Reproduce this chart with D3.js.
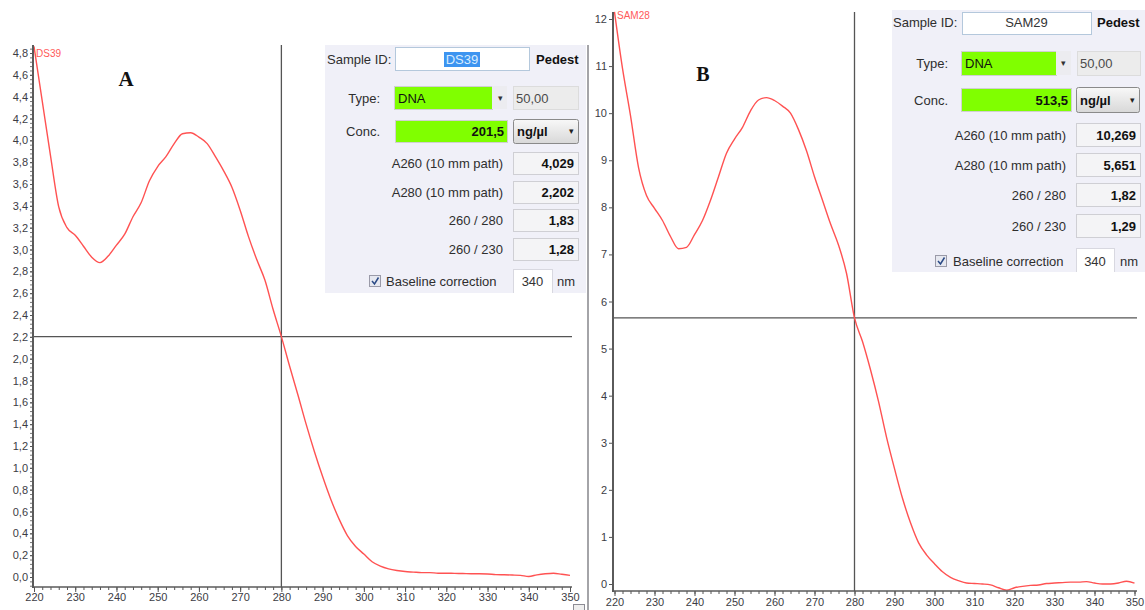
<!DOCTYPE html>
<html>
<head>
<meta charset="utf-8">
<script src="https://cdn.jsdelivr.net/npm/d3@7"></script>
<style>
  body { margin: 0; background: #fff; }
  svg { display: block; }
</style>
</head>
<body>
<svg id="chart" width="1145" height="610"></svg>
<script>
// Wavelength grid (nm) shared by both spectra
const wavelengths = [220,222,224,226,228,230,232,234,236,238,240,242,244,246,248,250,252,254,256,258,
  260,262,264,266,268,270,272,274,276,278,280,282,284,286,288,290,292,294,296,298,
  300,302,304,306,308,310,312,314,316,318,320,322,324,326,328,330,332,334,336,338,
  340,342,344,346,348,350];

// Absorbance, sample DS39
const absorbA = [4.86,4.36,3.86,3.39,3.20,3.13,3.03,2.93,2.88,2.94,3.04,3.14,3.30,3.43,3.63,3.76,3.85,3.97,4.06,4.07,
  4.029,3.97,3.85,3.72,3.57,3.36,3.12,2.91,2.72,2.45,2.202,1.93,1.67,1.40,1.15,0.92,0.71,0.53,0.38,0.28,
  0.21,0.14,0.10,0.075,0.06,0.05,0.045,0.04,0.04,0.035,0.035,0.033,0.032,0.03,0.03,0.028,0.022,0.02,0.018,0.015,
  0.005,0.02,0.03,0.035,0.025,0.015];

// Absorbance, sample SAM29
const absorbB = [12.15,10.95,9.95,8.85,8.25,7.98,7.72,7.38,7.12,7.15,7.42,7.72,8.15,8.65,9.15,9.45,9.70,10.05,10.28,10.33,
  10.269,10.15,10.00,9.65,9.20,8.65,8.15,7.65,7.20,6.60,5.651,5.15,4.55,3.88,3.12,2.45,1.82,1.30,0.88,0.62,
  0.43,0.26,0.14,0.07,0.02,0.01,0.00,-0.02,-0.08,-0.13,-0.08,-0.05,-0.03,-0.02,0.01,0.02,0.03,0.04,0.04,0.05,
  0.02,0.00,0.00,0.02,0.06,0.02];

// Axis ticks
const xTicks = [220,230,240,250,260,270,280,290,300,310,320,330,340,350];
const yTicksA = [0,0.2,0.4,0.6,0.8,1.0,1.2,1.4,1.6,1.8,2.0,2.2,2.4,2.6,2.8,3.0,3.2,3.4,3.6,3.8,4.0,4.2,4.4,4.6,4.8];
const yTicksB = [0,1,2,3,4,5,6,7,8,9,10,11,12];
const crossNm = 280;

// Measurement readouts
const sampleIds = ["DS39", "SAM29"];
const traceNames = ["DS39", "SAM28"];
const panelLetters = ["A", "B"];
const concentrations = ["201,5", "513,5"];
const a260 = [4.029, 10.269];
const a280 = [2.202, 5.651];
const ratio260280 = ["1,83", "1,82"];
const ratio260230 = ["1,28", "1,29"];
const rowLabels = ["A260 (10 mm path)", "A280 (10 mm path)", "260 / 280", "260 / 230"];
const sampleType = "DNA";
const typeFactor = "50,00";
const concUnit = "ng/µl";
const baselineNm = "340";

const locale = d3.formatLocale({decimal: ",", thousands: ".", grouping: [3], currency: ["", ""]});
const fmt1 = locale.format(".1f");
const fmt3 = locale.format(".3f");
const fmt0 = locale.format("d");

const svg = d3.select("#chart");
const defs = svg.append("defs");
const grad = defs.append("linearGradient").attr("id", "btnGrad").attr("x1", 0).attr("x2", 0).attr("y1", 0).attr("y2", 1);
grad.append("stop").attr("offset", 0).attr("stop-color", "#f8f8f8");
grad.append("stop").attr("offset", 1).attr("stop-color", "#d8d8d8");

const tickFont = "Liberation Sans, Arial, sans-serif";
const uiFont = "Liberation Sans, Arial, sans-serif";

const panels = [
  { idx: 0, values: absorbA, yTicks: yTicksA, yMinorStep: 0.04, yFmt: fmt1,
    xL: 34, xR: 570, y0: 577, yRefVal: 4.8, yRefPx: 53,
    axisX: 33, axisY: 587, top: 45, right: 572, xLabelOff: 6, yTickLen: 3,
    traceLabel: [36, 57], letter: [126, 86, 21],
    box: { x: 325, y: 45, w: 261, h: 248,
      idLabelX: 327, idY: 59, idBox: [395, 47, 529, 70], pedX: 536,
      typeY: 98, labRight: 380, typeGreen: [394, 86, 492, 109], arrowX: 500, factorBox: [513, 86, 578, 109],
      concY: 131, concGreen: [395, 120, 507, 142], unitBtn: [513, 119, 579, 144],
      rowsY: [163, 192, 220, 249], rowLabRight: 503, rowBox: [513, 578], rowH: 22,
      baseY: 281, checkX: 369, baseTextX: 386, baseBox: [513, 269, 552, 293], nmX: 557,
      highlight: true } },
  { idx: 1, values: absorbB, yTicks: yTicksB, yMinorStep: null, yFmt: fmt0,
    xL: 614.5, xR: 1134.5, y0: 584, yRefVal: 12, yRefPx: 19,
    axisX: 613, axisY: 591, top: 12, right: 1137, xLabelOff: 7, yTickLen: 4,
    traceLabel: [617, 19], letter: [703, 81, 20],
    box: { x: 892, y: 10, w: 253, h: 262,
      idLabelX: 893, idY: 22, idBox: [962, 12, 1091, 34], pedX: 1097,
      typeY: 63, labRight: 948, typeGreen: [961, 51, 1056, 75], arrowX: 1063, factorBox: [1077, 51, 1140, 75],
      concY: 100, concGreen: [961, 88, 1071, 111], unitBtn: [1076, 87, 1140, 113],
      rowsY: [135, 165, 195, 226], rowLabRight: 1066, rowBox: [1076, 1140], rowH: 23,
      baseY: 261, checkX: 935, baseTextX: 953, baseBox: [1076, 248, 1114, 274], nmX: 1120,
      highlight: false } }
];

function drawPlot(p) {
  const g = svg.append("g");
  const x = d3.scaleLinear().domain([220, 350]).range([p.xL, p.xR]);
  const y = d3.scaleLinear().domain([0, p.yRefVal]).range([p.y0, p.yRefPx]);

  const clipId = "plotClip" + p.idx;
  defs.append("clipPath").attr("id", clipId).append("rect")
    .attr("x", p.axisX).attr("y", p.top - 3).attr("width", p.right - p.axisX + 2).attr("height", p.axisY - p.top + 3);

  // crosshair at 280 nm / A280
  g.append("line").attr("x1", x(crossNm)).attr("x2", x(crossNm)).attr("y1", p.top).attr("y2", p.axisY)
    .attr("stroke", "#555").attr("stroke-width", 1.3);
  g.append("line").attr("x1", p.axisX).attr("x2", p.right).attr("y1", y(a280[p.idx])).attr("y2", y(a280[p.idx]))
    .attr("stroke", "#555").attr("stroke-width", 1.3);

  // spectrum
  const line = d3.line().x(d => x(d[0])).y(d => y(d[1])).curve(d3.curveMonotoneX);
  g.append("path").datum(d3.zip(wavelengths, p.values))
    .attr("clip-path", `url(#${clipId})`)
    .attr("d", line).attr("fill", "none").attr("stroke", "#ff5252").attr("stroke-width", 1.4)
    .attr("stroke-linejoin", "round");

  // x axis: minor ticks every 2 nm, labelled every 10 nm
  const xMinor = g.append("g").attr("transform", `translate(0,${p.axisY})`)
    .call(d3.axisBottom(x).tickValues(wavelengths).tickSize(3).tickSizeOuter(0).tickFormat(""));
  const xMajor = g.append("g").attr("transform", `translate(0,${p.axisY})`)
    .call(d3.axisBottom(x).tickValues(xTicks).tickSize(5).tickSizeOuter(0).tickPadding(p.xLabelOff - 5).tickFormat(fmt0));
  [xMinor, xMajor].forEach(a => { a.select(".domain").remove(); a.selectAll("line").attr("stroke", "#555"); });
  xMajor.selectAll("text").attr("font-family", tickFont).attr("font-size", 11).attr("fill", "#3c3c44");

  // y axis
  if (p.yMinorStep) {
    const yMinor = g.append("g").attr("transform", `translate(${p.axisX},0)`)
      .call(d3.axisLeft(y).tickValues(d3.range(-0.08, 4.87, p.yMinorStep)).tickSize(3).tickSizeOuter(0).tickFormat(""));
    yMinor.select(".domain").remove();
    yMinor.selectAll("line").attr("stroke", "#777");
  }
  const yMajor = g.append("g").attr("transform", `translate(${p.axisX},0)`)
    .call(d3.axisLeft(y).tickValues(p.yTicks).tickSize(p.yTickLen).tickSizeOuter(0).tickPadding(2).tickFormat(p.yFmt));
  yMajor.select(".domain").remove();
  yMajor.selectAll("line").attr("stroke", "#555");
  yMajor.selectAll("text").attr("font-family", tickFont).attr("font-size", 11).attr("fill", "#3c3c44");

  // axis lines
  g.append("line").attr("x1", p.axisX).attr("x2", p.axisX).attr("y1", p.top).attr("y2", p.axisY + 1)
    .attr("stroke", "#5a5a5a").attr("stroke-width", 2);
  g.append("line").attr("x1", p.axisX).attr("x2", p.right).attr("y1", p.axisY).attr("y2", p.axisY)
    .attr("stroke", "#5a5a5a").attr("stroke-width", 1.6);

  // trace name and panel letter
  g.append("text").attr("x", p.traceLabel[0]).attr("y", p.traceLabel[1]).text(traceNames[p.idx])
    .attr("font-family", tickFont).attr("font-size", 10).attr("fill", "#ff5a5a");
  g.append("text").attr("x", p.letter[0]).attr("y", p.letter[1]).attr("text-anchor", "middle")
    .text(panelLetters[p.idx])
    .attr("font-family", "Liberation Serif, Times New Roman, serif").attr("font-weight", "bold")
    .attr("font-size", p.letter[2]).attr("fill", "#111");
}

function rectBox(g, r, fill, stroke) {
  return g.append("rect").attr("x", r[0]).attr("y", r[1]).attr("width", r[2] - r[0]).attr("height", r[3] - r[1])
    .attr("fill", fill).attr("stroke", stroke || "none").attr("shape-rendering", "crispEdges");
}

function uiText(g, x, y, str, opts) {
  opts = opts || {};
  return g.append("text").attr("x", x).attr("y", y).attr("dy", "0.35em").text(str)
    .attr("font-family", uiFont).attr("font-size", opts.size || 13)
    .attr("font-weight", opts.bold ? "bold" : "normal")
    .attr("text-anchor", opts.anchor || "start")
    .attr("fill", opts.fill || "#2e2e2e");
}

function drawReadout(p) {
  const b = p.box, i = p.idx;
  const clipId = "boxClip" + i;
  defs.append("clipPath").attr("id", clipId).append("rect")
    .attr("x", b.x).attr("y", b.y).attr("width", b.w).attr("height", b.h);
  const g = svg.append("g").attr("clip-path", `url(#${clipId})`);
  g.append("rect").attr("x", b.x).attr("y", b.y).attr("width", b.w).attr("height", b.h).attr("fill", "#f0f0f8");

  // Sample ID
  uiText(g, b.idLabelX, b.idY, "Sample ID:");
  rectBox(g, b.idBox, "#ffffff", "#b4c8dc");
  const idCx = (b.idBox[0] + b.idBox[2]) / 2;
  if (b.highlight) {
    g.append("rect").attr("x", idCx - 18).attr("y", b.idY - 7).attr("width", 36).attr("height", 15).attr("fill", "#3d94f0");
    uiText(g, idCx, b.idY, sampleIds[i], { anchor: "middle", fill: "#d8ecff" });
  } else {
    uiText(g, idCx, b.idY, sampleIds[i], { anchor: "middle", fill: "#333" });
  }
  uiText(g, b.pedX, b.idY, "Pedest", { bold: true, fill: "#111" });

  // Type
  uiText(g, b.labRight, b.typeY, "Type:", { anchor: "end" });
  rectBox(g, b.typeGreen, "#80ff00", "#d0d0d0");
  uiText(g, b.typeGreen[0] + 4, b.typeY, sampleType, { fill: "#111" });
  rectBox(g, [b.typeGreen[2], b.typeGreen[1], b.factorBox[0] - 6, b.typeGreen[3]], "#ececf0");
  uiText(g, b.arrowX, b.typeY, "▾", { anchor: "middle", size: 9, fill: "#333" });
  rectBox(g, b.factorBox, "#ececec", "#dcdcdc");
  uiText(g, b.factorBox[0] + 3, b.typeY, typeFactor, { fill: "#4a4a4a" });

  // Concentration
  uiText(g, b.labRight, b.concY, "Conc.", { anchor: "end" });
  rectBox(g, b.concGreen, "#80ff00", "#d0d0d0");
  uiText(g, b.concGreen[2] - 3, b.concY, concentrations[i], { anchor: "end", bold: true, fill: "#111" });
  g.append("rect").attr("x", b.unitBtn[0] + 0.5).attr("y", b.unitBtn[1] + 0.5)
    .attr("width", b.unitBtn[2] - b.unitBtn[0] - 1).attr("height", b.unitBtn[3] - b.unitBtn[1] - 1)
    .attr("rx", 2).attr("fill", "url(#btnGrad)").attr("stroke", "#8a8a8a");
  uiText(g, b.unitBtn[0] + 4, b.concY, concUnit, { bold: true, fill: "#111" });
  uiText(g, b.unitBtn[2] - 8, b.concY, "▾", { anchor: "middle", size: 9, fill: "#222" });

  // Absorbance readouts
  const vals = [fmt3(a260[i]), fmt3(a280[i]), ratio260280[i], ratio260230[i]];
  rowLabels.forEach((lab, k) => {
    const cy = b.rowsY[k];
    uiText(g, b.rowLabRight, cy, lab, { anchor: "end" });
    rectBox(g, [b.rowBox[0], cy - b.rowH / 2, b.rowBox[1], cy + b.rowH / 2], "#f4f4f6", "#cfcfd4");
    uiText(g, b.rowBox[1] - 4, cy, vals[k], { anchor: "end", bold: true, fill: "#111" });
  });

  // Baseline correction
  const cy = b.baseY;
  g.append("rect").attr("x", b.checkX + 0.5).attr("y", cy - 5.5).attr("width", 11).attr("height", 11)
    .attr("fill", "#e6e8f0").attr("stroke", "#9a9aa8");
  g.append("path").attr("d", `M${b.checkX + 3},${cy} L${b.checkX + 5.5},${cy + 3} L${b.checkX + 9.5},${cy - 3.5}`)
    .attr("fill", "none").attr("stroke", "#2b4a86").attr("stroke-width", 1.5);
  uiText(g, b.baseTextX, cy, "Baseline correction");
  rectBox(g, b.baseBox, "#ffffff", "#d8d8e0");
  uiText(g, (b.baseBox[0] + b.baseBox[2]) / 2, cy, baselineNm, { anchor: "middle", fill: "#333" });
  uiText(g, b.nmX, cy, "nm");
}

panels.forEach(p => { drawPlot(p); drawReadout(p); });

// left pane frame and scroll button
svg.append("line").attr("x1", 588).attr("x2", 588).attr("y1", 45).attr("y2", 610)
  .attr("stroke", "#a4a4a8").attr("stroke-width", 2);
svg.append("rect").attr("x", 573.5).attr("y", 604.5).attr("width", 11).attr("height", 8)
  .attr("fill", "#eeeeee").attr("stroke", "#8c8c94");
</script>
</body>
</html>
